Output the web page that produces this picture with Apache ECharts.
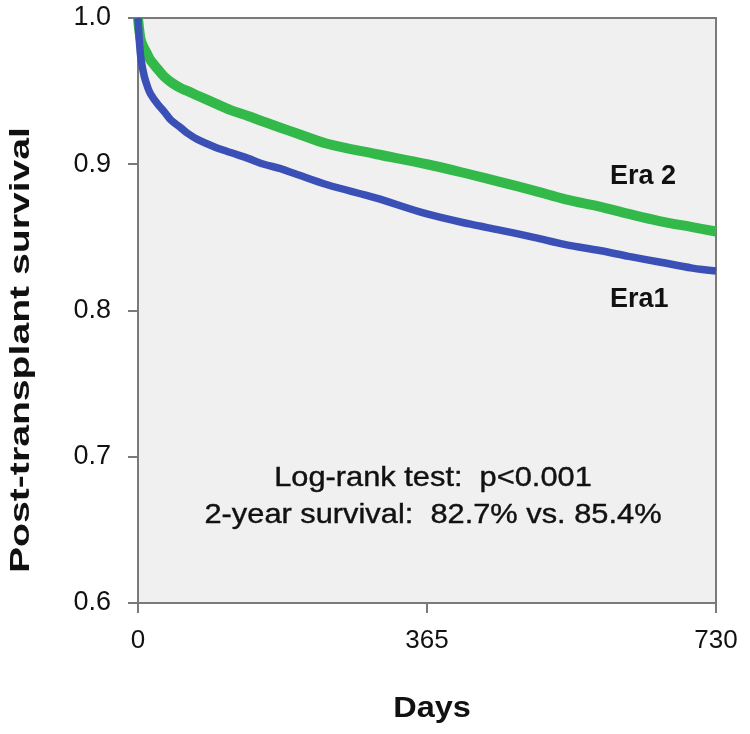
<!DOCTYPE html>
<html><head><meta charset="utf-8">
<script src="https://cdn.jsdelivr.net/npm/echarts@6/dist/echarts.min.js"></script>
<style>html,body{margin:0;padding:0;background:#fff}#c{width:750px;height:734px}</style>
</head><body><div id="c"></div>
<script>
const days = [0, 2, 4, 8, 12, 16, 25, 33, 42, 54, 63, 75, 96, 117, 139, 159, 180, 201, 239, 300, 365, 420, 457, 500, 540, 583, 620, 660, 700, 730];
const era2 = [1.0, 0.990, 0.984, 0.979, 0.975, 0.971, 0.965, 0.960, 0.956, 0.952, 0.950, 0.947, 0.942, 0.937, 0.933, 0.929, 0.925, 0.921, 0.914, 0.907, 0.900, 0.893, 0.888, 0.882, 0.876, 0.871, 0.866, 0.861, 0.857, 0.854];
const era1 = [1.0, 0.982, 0.971, 0.960, 0.953, 0.948, 0.941, 0.936, 0.930, 0.925, 0.921, 0.917, 0.912, 0.908, 0.904, 0.900, 0.897, 0.893, 0.886, 0.877, 0.866, 0.859, 0.855, 0.850, 0.845, 0.841, 0.837, 0.833, 0.829, 0.827];
const xTicks = [0, 365, 730];
const yTicks = [0.6, 0.7, 0.8, 0.9, 1.0];
const seriesNames = ['Era 2', 'Era1'];
const notes = ['Log-rank test:  p<0.001', '2-year survival:  82.7% vs. 85.4%'];
const axisTitles = ['Days', 'Post-transplant survival'];

const chart = echarts.init(document.getElementById('c'));
const font = 'Liberation Sans, Arial, sans-serif';
const pair = (ys) => days.map((d, i) => [d, ys[i]]);
chart.setOption({
  animation: false,
  grid: {left: 138, right: 34, top: 18, bottom: 131, show: true, backgroundColor: '#f0f0f0', borderColor: '#7a7a7a', borderWidth: 2},
  xAxis: {
    type: 'value', min: 0, max: 730, interval: 365,
    axisLine: {show: true, lineStyle: {color: '#7a7a7a', width: 2}},
    axisTick: {show: true, length: 10, lineStyle: {color: '#7a7a7a', width: 2}},
    axisLabel: {fontFamily: font, fontSize: 26, color: '#111', margin: 25, formatter: v => xTicks.includes(v) ? String(v) : ''},
    splitLine: {show: false}
  },
  yAxis: {
    type: 'value', min: 0.6, max: 1.0, interval: 0.1,
    axisLine: {show: true, lineStyle: {color: '#7a7a7a', width: 2}},
    axisTick: {show: true, length: 10, lineStyle: {color: '#7a7a7a', width: 2}},
    axisLabel: {fontFamily: font, fontSize: 27, color: '#111', margin: 27, formatter: v => yTicks.some(t => Math.abs(t - v) < 1e-9) ? v.toFixed(1) : ''},
    splitLine: {show: false}
  },
  series: [
    {name: seriesNames[0], type: 'line', data: pair(era2), smooth: 0.35, symbol: 'none',
     lineStyle: {color: '#33b94a', width: 10}, z: 3},
    {name: seriesNames[1], type: 'line', data: pair(era1), smooth: 0.35, symbol: 'none',
     lineStyle: {color: '#3b50b6', width: 7.5}, z: 4}
  ],
  graphic: [
    {type: 'text', x: 22, y: 350, rotation: Math.PI / 2, scaleX: 1.45,
     style: {text: axisTitles[1], font: 'bold 27px ' + font, fill: '#111', align: 'center', verticalAlign: 'middle'}},
    {type: 'text', x: 432, y: 709, scaleX: 1.12,
     style: {text: axisTitles[0], font: 'bold 29px ' + font, fill: '#111', align: 'center', verticalAlign: 'middle'}},
    {type: 'text', x: 610, y: 177, style: {text: seriesNames[0], font: 'bold 27px ' + font, fill: '#111', verticalAlign: 'middle'}},
    {type: 'text', x: 610, y: 300, style: {text: seriesNames[1], font: 'bold 27px ' + font, fill: '#111', verticalAlign: 'middle'}},
    {type: 'text', x: 433, y: 478, scaleX: 1.1, style: {text: notes[0], font: '28px ' + font, fill: '#111', stroke: '#111', lineWidth: 0.4, align: 'center', verticalAlign: 'middle'}},
    {type: 'text', x: 433, y: 515, scaleX: 1.1, style: {text: notes[1], font: '28px ' + font, fill: '#111', stroke: '#111', lineWidth: 0.4, align: 'center', verticalAlign: 'middle'}}
  ]
});
</script></body></html>
